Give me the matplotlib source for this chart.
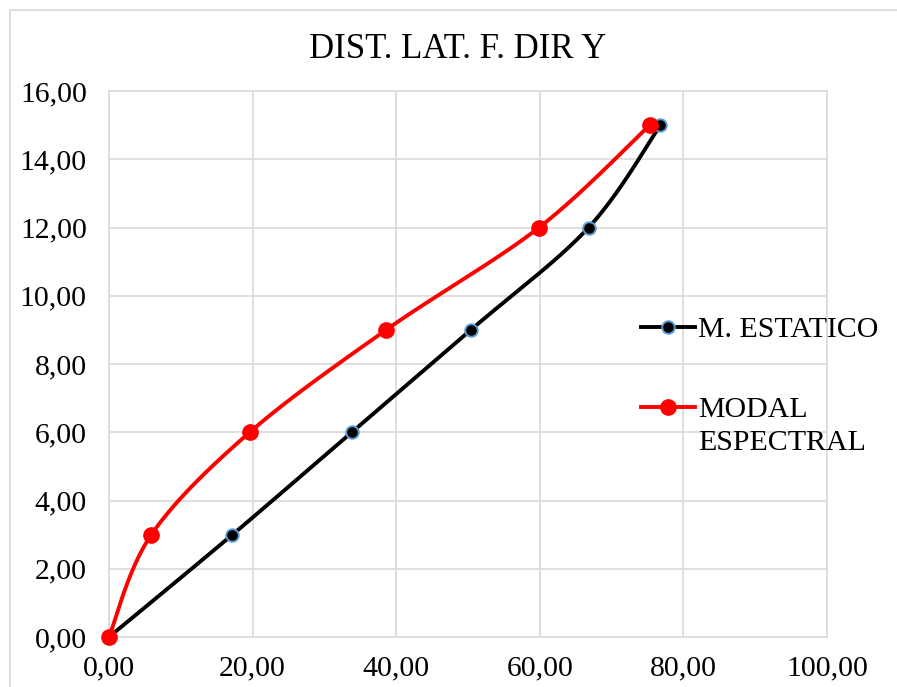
import numpy as np
import matplotlib
matplotlib.use("Agg")
import matplotlib.pyplot as plt
from matplotlib.patches import Rectangle
from matplotlib.lines import Line2D

plt.rcParams['font.family'] = ['Liberation Serif', 'DejaVu Serif']

title = "DIST. LAT. F. DIR Y"
height = [0, 3, 6, 9, 12, 15]
estatico = [0, 17.2, 33.8, 50.4, 66.8, 76.8]
modal = [0, 5.9, 19.6, 38.6, 59.9, 75.3]
labels = ["M. ESTATICO", "MODAL", "ESPECTRAL"]
xticks = [0, 20, 40, 60, 80, 100]
yticks = [0, 2, 4, 6, 8, 10, 12, 14, 16]

XR, YR = 100.0, 16.0


def smooth(xs, ys, n=40):
    # Excel-like Bezier smoothing (Catmull-Rom control points)
    P = np.column_stack([np.array(xs) / XR, np.array(ys) / YR * 0.76])
    out = []
    m = len(P)
    for i in range(m - 1):
        p0 = P[max(i - 1, 0)]
        p1 = P[i]
        p2 = P[i + 1]
        p3 = P[min(i + 2, m - 1)]
        c1 = p1 + (p2 - p0) / 6.0
        c2 = p2 - (p3 - p1) / 6.0
        t = np.linspace(0, 1, n)[:, None]
        seg = ((1 - t) ** 3) * p1 + 3 * ((1 - t) ** 2) * t * c1 + 3 * (1 - t) * t ** 2 * c2 + t ** 3 * p2
        out.append(seg if i == 0 else seg[1:])
    S = np.vstack(out)
    return S[:, 0] * XR, S[:, 1] / 0.76 * YR


fig = plt.figure(figsize=(8.97, 6.87), dpi=100)
fig.patches.append(Rectangle((10 / 897, -0.01), 1.0, 1 - 10 / 687 + 0.01, transform=fig.transFigure,
                             fill=False, edgecolor='#D9D9D9', linewidth=1.2))
ax = fig.add_axes([109 / 897, 1 - 637 / 687, (827 - 109) / 897, (637 - 91) / 687])

sx, sy = smooth(estatico, height)
ax.plot(sx, sy, color='black', lw=2.8, zorder=3)
ax.plot(estatico, height, ls='none', marker='o', ms=9, mfc='black', mec='#5B9BD5', mew=1.4,
        zorder=4, clip_on=False)
mx, my = smooth(modal, height)
ax.plot(mx, my, color='#FF0000', lw=2.8, zorder=5)
ax.plot(modal, height, ls='none', marker='o', ms=11, mfc='#FF0000', mec='#FF0000', zorder=6,
        clip_on=False)

ax.set_xlim(0, 100)
ax.set_ylim(0, 16)
ax.set_xticks(xticks)
ax.set_yticks(yticks)
ax.set_xticklabels([f"{v:.2f}".replace('.', ',') for v in xticks])
ax.set_yticklabels([f"{v:.2f}".replace('.', ',') for v in yticks])
ax.tick_params(length=0, labelsize=21.4)
ax.tick_params(axis='y', pad=16)
ax.tick_params(axis='x', pad=13)
ax.grid(True, color='#D9D9D9', lw=1.2)
ax.set_axisbelow(True)
for s in ax.spines.values():
    s.set_color('#D9D9D9')
    s.set_linewidth(1.2)

fig.text(458 / 897, 1 - 50 / 687, title, ha='center', va='center', fontsize=25)

# manual legend
def fy(py):
    return 1 - py / 687

def fx(px):
    return px / 897

hx = [fx(641), fx(695)]
fig.add_artist(Line2D(hx, [fy(327)] * 2, color='black', lw=2.8, transform=fig.transFigure))
fig.add_artist(Line2D([fx(668)], [fy(327)], ls='none', marker='o', ms=9, mfc='black',
                      mec='#5B9BD5', mew=1.4, transform=fig.transFigure))
fig.add_artist(Line2D(hx, [fy(407)] * 2, color='#FF0000', lw=2.8, transform=fig.transFigure))
fig.add_artist(Line2D([fx(668)], [fy(407)], ls='none', marker='o', ms=11, mfc='#FF0000',
                      mec='#FF0000', transform=fig.transFigure))
fig.text(fx(698), fy(327), labels[0], ha='left', va='center_baseline', fontsize=21.5)
fig.text(fx(698), fy(407), labels[1], ha='left', va='center_baseline', fontsize=21.5)
fig.text(fx(698), fy(440), labels[2], ha='left', va='center_baseline', fontsize=21.5)

fig.savefig("out.png", dpi=100)
